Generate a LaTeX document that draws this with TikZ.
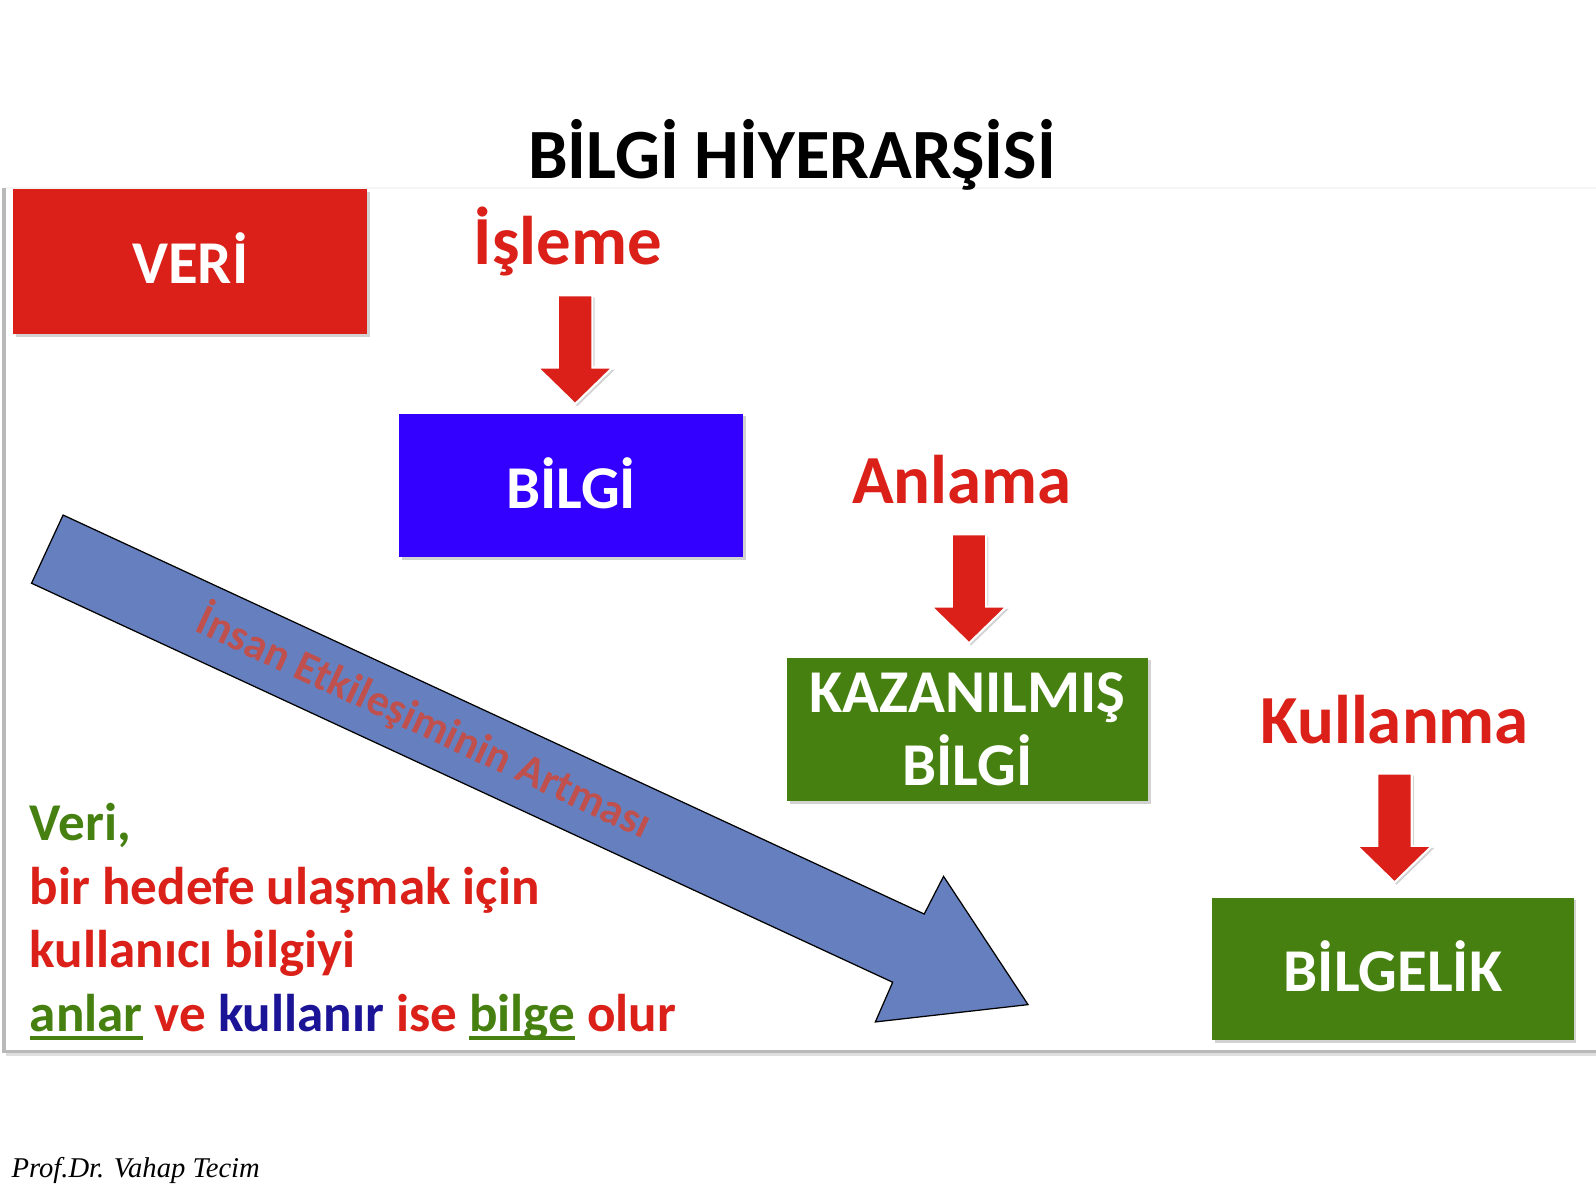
\documentclass[tikz,border=0pt]{standalone}
\usepackage{fontspec}
\setmainfont{Carlito}
\newfontfamily\sigfont{Liberation Serif}
\usetikzlibrary{shadows}
\definecolor{slred}{RGB}{218,32,24}
\definecolor{slblue}{RGB}{51,0,255}
\definecolor{slgreen}{RGB}{69,128,16}
\definecolor{arrowblue}{RGB}{102,128,191}
\definecolor{navytext}{RGB}{28,20,150}
\definecolor{arrowtext}{RGB}{192,80,77}
\newsavebox\myulbox
\newcommand\ulword[1]{\sbox\myulbox{#1}\rlap{\rule[-5.2pt]{\wd\myulbox}{2.2pt}}\usebox\myulbox}
\begin{document}
\begin{tikzpicture}[x=0.02cm,y=-0.02cm,
  box/.style={rectangle, inner sep=0pt, text=white, align=center,
    font=\bfseries\fontsize{34}{41}\selectfont,
    drop shadow={shadow xshift=1.5pt, shadow yshift=-1.5pt, opacity=0.35}},
  lbl/.style={inner sep=0pt, anchor=base, text=slred, font=\bfseries\fontsize{38.5}{46}\selectfont},
  txt/.style={inner sep=0pt, anchor=base west, font=\bfseries\fontsize{29.7}{36}\selectfont},
  downarrow/.pic={
    \draw[white, line width=1.2pt, fill=slred,
      drop shadow={shadow xshift=1.2pt, shadow yshift=-1.2pt, opacity=0.35}]
      (-17,0) -- (17,0) -- (17,71) -- (37,71) -- (0,107) -- (-37,71) -- (-17,71) -- cycle;
  }]
\useasboundingbox (0,0) rectangle (1568,1176);
\fill[white] (0,0) rectangle (1568,1176);
% slide frame shadow
\draw[gray!8, line width=1pt] (4,185) -- (1568,185);
\draw[gray!55, line width=2pt] (4,185) -- (4,1033) -- (1568,1033);
\draw[gray!25, line width=2pt] (6,1036) -- (1568,1036);

% title
\node[inner sep=0pt, anchor=base, font=\bfseries\fontsize{39.5}{47}\selectfont] (title) at (778,175) {BİLGİ HİYERARŞİSİ};

% boxes
\node[box, fill=slred, minimum width=6.96cm, minimum height=2.84cm] (veri) at (187,257) {\raisebox{4pt}{VERİ}};
\node[box, fill=slblue, minimum width=6.76cm, minimum height=2.82cm] (bilgi) at (561,477) {\raisebox{2.5pt}{BİLGİ}};
\node[box, fill=slgreen, minimum width=7.1cm, minimum height=2.82cm] (kaz) at (950.5,716.5) {KAZANILMIŞ\\BİLGİ};
\node[box, fill=slgreen, minimum width=7.1cm, minimum height=2.8cm] (bilgelik) at (1368.5,952) {\raisebox{3pt}{BİLGELİK}};

% labels
\node[lbl] (isleme) at (558,260) {İşleme};
\node[lbl] (anlama) at (945,495) {Anlama};
\node[lbl] (kullanma) at (1370,730) {Kullanma};

% red arrows
\pic at (565,290) {downarrow};
\pic at (952,525) {downarrow};
\pic at (1370,760) {downarrow};

% big blue arrow
\draw[fill=arrowblue, draw=black, line width=0.7pt]
  (62,506) -- (908,898) -- (927,861) -- (1010,987) -- (860,1004) -- (877,965) -- (31,573) -- cycle;
\node[inner sep=0pt, rotate=-24.85, text=arrowtext, font=\bfseries\fontsize{24.6}{29}\selectfont] (insan) at (417,709) {İnsan Etkileşiminin Artması};

% left text
\node[txt, text=slgreen] (l1) at (29,826) {Veri,};
\node[txt, text=slred] (l2) at (29,889) {bir hedefe ulaşmak için};
\node[txt, text=slred] (l3) at (29,951) {kullanıcı bilgiyi};
\node[txt, text=slred] (l4) at (29,1013) {\textcolor{slgreen}{\ulword{anlar}} ve \textcolor{navytext}{kullanır} ise \textcolor{slgreen}{\ulword{bilge}} olur};

% signature
\node[inner sep=0pt, anchor=base west, font=\sigfont\itshape\fontsize{16}{19}\selectfont] (sig) at (11,1157) {Prof.Dr. Vahap Tecim};
\end{tikzpicture}
\end{document}
